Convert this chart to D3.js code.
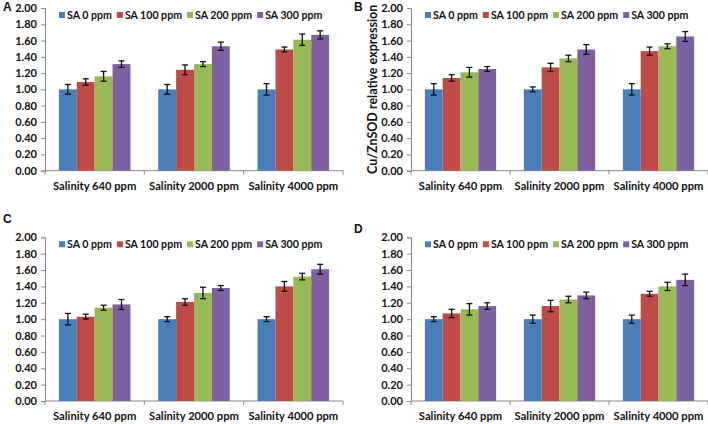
<!DOCTYPE html>
<html>
<head>
<meta charset="utf-8">
<script src="https://cdn.jsdelivr.net/npm/d3@7"></script>
<style>
  html, body { margin: 0; padding: 0; background: #fff; }
  svg { display: block; }
  text { font-family: Lato, "Liberation Sans", sans-serif; font-weight: 700; fill: #111; }
</style>
</head>
<body>
<svg id="chart" width="708" height="424"></svg>
<script>
// ---- data ----
const categories = ["Salinity 640 ppm", "Salinity 2000 ppm", "Salinity 4000 ppm"];
const seriesNames = ["SA 0 ppm", "SA 100 ppm", "SA 200 ppm", "SA 300 ppm"];
const panelLabels = ["A", "B", "C", "D"];
const yTickValues = [0, 0.2, 0.4, 0.6, 0.8, 1.0, 1.2, 1.4, 1.6, 1.8, 2.0];
const yAxisTitle = "Cu/ZnSOD relative expression";

// values[category][series]
const valuesA = [[1.00, 1.09, 1.16, 1.31], [1.00, 1.24, 1.31, 1.53], [1.00, 1.49, 1.61, 1.67]];
const errorsA = [[0.06, 0.04, 0.06, 0.04], [0.06, 0.06, 0.03, 0.05], [0.07, 0.03, 0.07, 0.05]];
const valuesB = [[1.00, 1.14, 1.21, 1.25], [1.00, 1.27, 1.38, 1.49], [1.00, 1.47, 1.53, 1.65]];
const errorsB = [[0.07, 0.04, 0.06, 0.03], [0.03, 0.05, 0.04, 0.06], [0.07, 0.05, 0.03, 0.06]];
const valuesC = [[1.00, 1.03, 1.14, 1.18], [1.00, 1.21, 1.32, 1.38], [1.00, 1.40, 1.52, 1.61]];
const errorsC = [[0.07, 0.03, 0.03, 0.06], [0.03, 0.04, 0.07, 0.03], [0.03, 0.06, 0.04, 0.06]];
const valuesD = [[1.00, 1.07, 1.12, 1.16], [1.00, 1.16, 1.24, 1.29], [1.00, 1.31, 1.40, 1.48]];
const errorsD = [[0.03, 0.05, 0.07, 0.04], [0.05, 0.07, 0.04, 0.04], [0.05, 0.03, 0.05, 0.07]];

const colors = ["#4A7EBB", "#BE4B48", "#98B954", "#7D60A0"];

// ---- layout ----
const panels = [
  { label: panelLabels[0], values: valuesA, errors: errorsA, x0: 45, x1: 343, y0: 8, y1: 170.7, lx: 3, ly: 11, title: false },
  { label: panelLabels[1], values: valuesB, errors: errorsB, x0: 411, x1: 708, y0: 8, y1: 170.7, lx: 354, ly: 11, title: true },
  { label: panelLabels[2], values: valuesC, errors: errorsC, x0: 45, x1: 343, y0: 237.3, y1: 401, lx: 3, ly: 223, title: false },
  { label: panelLabels[3], values: valuesD, errors: errorsD, x0: 411, x1: 708, y0: 237.3, y1: 401, lx: 354, ly: 233, title: false }
];

const svg = d3.select("#chart");

panels.forEach(p => {
  const g = svg.append("g");
  const y = d3.scaleLinear().domain([0, 2]).range([p.y1, p.y0]);
  const x = d3.scaleBand().domain(categories).range([p.x0, p.x1]).paddingInner(0.28).paddingOuter(0.14);
  const xs = d3.scaleBand().domain(seriesNames).range([0, x.bandwidth()]).padding(0);

  // y axis
  const yAxis = d3.axisLeft(y).tickValues(yTickValues).tickFormat(d3.format(".2f")).tickSize(4).tickPadding(4);
  const ya = g.append("g").attr("transform", `translate(${p.x0},0)`).call(yAxis);
  ya.select(".domain").attr("stroke", "#8a8a8a");
  ya.selectAll(".tick line").attr("stroke", "#8a8a8a");
  ya.selectAll(".tick text").style("font-size", "11px").attr("fill", "#111");

  // x axis baseline with boundary ticks
  const xa = g.append("g");
  xa.append("line").attr("x1", p.x0).attr("x2", p.x1).attr("y1", p.y1).attr("y2", p.y1).attr("stroke", "#8a8a8a");
  const bounds = categories.map(c => x(c) - x.step() * x.paddingInner() / 2).concat([p.x1]);
  xa.selectAll("line.bt").data(bounds).join("line").attr("class", "bt")
    .attr("x1", d => d).attr("x2", d => d).attr("y1", p.y1).attr("y2", p.y1 + 4).attr("stroke", "#8a8a8a");
  xa.selectAll("text").data(categories).join("text")
    .attr("x", d => x(d) + x.bandwidth() / 2).attr("y", p.y1 + 19)
    .attr("text-anchor", "middle").style("font-size", "11.2px").text(d => d);

  // bars
  const flat = [];
  categories.forEach((c, ci) => seriesNames.forEach((s, si) => flat.push({ c, s, si, v: p.values[ci][si], e: p.errors[ci][si] })));
  g.selectAll("rect.bar").data(flat).join("rect").attr("class", "bar")
    .attr("x", d => x(d.c) + xs(d.s)).attr("width", xs.bandwidth())
    .attr("y", d => y(d.v)).attr("height", d => y(0) - y(d.v))
    .attr("fill", d => colors[d.si]);

  // error bars
  const eg = g.selectAll("g.err").data(flat).join("g").attr("class", "err");
  const cx = d => x(d.c) + xs(d.s) + xs.bandwidth() / 2;
  eg.append("line").attr("x1", cx).attr("x2", cx).attr("y1", d => y(d.v + d.e)).attr("y2", d => y(d.v - d.e)).attr("stroke", "#111").attr("stroke-width", 1.3);
  eg.append("line").attr("x1", d => cx(d) - 3).attr("x2", d => cx(d) + 3).attr("y1", d => y(d.v + d.e)).attr("y2", d => y(d.v + d.e)).attr("stroke", "#111").attr("stroke-width", 1.3);
  eg.append("line").attr("x1", d => cx(d) - 3).attr("x2", d => cx(d) + 3).attr("y1", d => y(d.v - d.e)).attr("y2", d => y(d.v - d.e)).attr("stroke", "#111").attr("stroke-width", 1.3);

  // legend
  const lg = g.append("g").attr("transform", `translate(${p.x0 + 14},${p.y0 + 7})`);
  let lx = 0;
  seriesNames.forEach((s, i) => {
    lg.append("rect").attr("x", lx).attr("y", -3).attr("width", 6).attr("height", 6).attr("fill", colors[i]);
    const t = lg.append("text").attr("x", lx + 8).attr("y", 4).style("font-size", "10.6px").text(s);
    lx += 8 + t.node().getComputedTextLength() + 5;
  });

  // panel label
  g.append("text").attr("x", p.lx).attr("y", p.ly).style("font-size", "12px").style("font-family", "Liberation Sans, Arial, sans-serif").text(p.label);

  if (p.title) {
    g.append("text").attr("transform", `translate(${p.x0 - 34},${(p.y0 + p.y1) / 2}) rotate(-90)`)
      .attr("text-anchor", "middle").style("font-size", "12.5px").text(yAxisTitle);
  }
});
</script>
</body>
</html>
